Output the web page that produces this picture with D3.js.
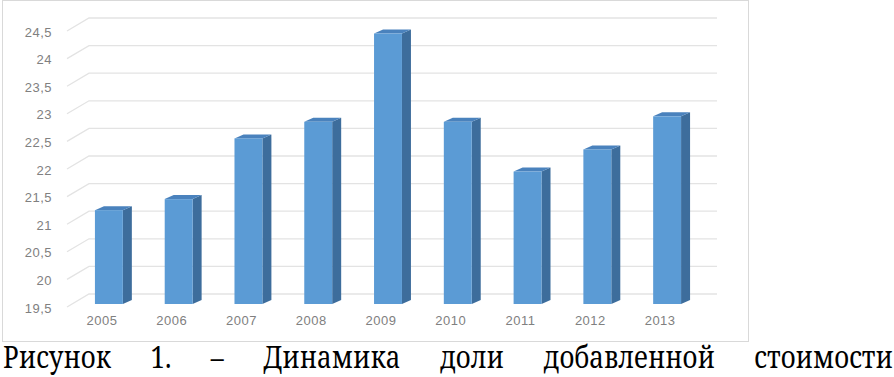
<!DOCTYPE html>
<html>
<head>
<meta charset="utf-8">
<script src="https://cdn.jsdelivr.net/npm/d3@7"></script>
<style>
  body { margin: 0; background: #fff; }
  svg { display: block; }
</style>
</head>
<body>
<svg id="chart" width="894" height="377"></svg>
<script>
// data
let years = ["2005", "2006", "2007", "2008", "2009", "2010", "2011", "2012", "2013"];
let values = [21.2, 21.4, 22.5, 22.8, 24.4, 22.8, 21.9, 22.3, 22.9];
let yTicks = [19.5, 20, 20.5, 21, 21.5, 22, 22.5, 23, 23.5, 24, 24.5];
let captionWords = ["Рисунок", "1.", "–", "Динамика", "доли", "добавленной", "стоимости"];

let svg = d3.select("#chart");

// chart frame
svg.append("rect")
    .attr("x", 2.5).attr("y", 0.5)
    .attr("width", 746).attr("height", 341)
    .attr("fill", "#fff").attr("stroke", "#d9d9d9");

// front plane scales, back plane is shifted by depth
let depthX = 22, depthY = -13;
let x = d3.scaleBand().domain(years).range([67, 695]).paddingInner(0.6).paddingOuter(0.3);
let y = d3.scaleLinear().domain([19.5, 24.5]).range([307, 31]);
let fmt = v => String(v).replace(".", ",");

// gridlines: diagonal on the left wall + horizontal on the back wall
let grid = svg.append("g").attr("stroke", "#e3e3e3").attr("stroke-width", 1.3).attr("fill", "none");
yTicks.forEach(v => {
    grid.append("path")
        .attr("d", `M67,${y(v)}L${67 + depthX},${y(v) + depthY}H${695 + depthX}`);
});

// y labels
svg.append("g")
    .attr("transform", "translate(54,1)")
    .call(d3.axisLeft(y).tickValues(yTicks).tickSize(0).tickPadding(2).tickFormat(fmt))
    .call(g => g.select(".domain").remove())
    .selectAll("text")
    .attr("fill", "#808080")
    .style("font-family", "'Liberation Sans', Arial, sans-serif")
    .style("font-size", "13px")
    .style("letter-spacing", "0.5px");

// x labels
svg.append("g")
    .attr("transform", `translate(0,${y(19.5) + 9})`)
    .call(d3.axisBottom(x).tickSize(0).tickPadding(0))
    .call(g => g.select(".domain").remove())
    .selectAll("text")
    .attr("fill", "#808080")
    .style("font-family", "'Liberation Sans', Arial, sans-serif")
    .style("font-size", "13px")
    .style("letter-spacing", "0.5px");

// 3D bars: bars sit a bit behind the front plane
let barShiftX = 7, barShiftY = -3;
let sideX = 9, sideY = -4;
let bars = svg.append("g").selectAll("g")
    .data(years.map((yr, i) => ({ year: yr, value: values[i] })))
    .join("g")
    .attr("transform", `translate(${barShiftX},${barShiftY})`);

bars.each(function (d) {
    let g = d3.select(this);
    let x0 = x(d.year), x1 = x0 + x.bandwidth();
    let yt = y(d.value), yb = y(19.5);
    // side face
    g.append("path")
        .attr("d", `M${x1},${yt}L${x1 + sideX},${yt + sideY}L${x1 + sideX},${yb + sideY}L${x1},${yb}Z`)
        .attr("fill", "#3d6d9c");
    // top face
    g.append("path")
        .attr("d", `M${x0},${yt}L${x0 + sideX},${yt + sideY}L${x1 + sideX},${yt + sideY}L${x1},${yt}Z`)
        .attr("fill", "#4a82bd");
    // front face
    g.append("rect")
        .attr("x", x0).attr("y", yt)
        .attr("width", x.bandwidth()).attr("height", yb - yt)
        .attr("fill", "#5b9bd5");
});

// caption: narrow serif, words justified over the full width
// (the installed Liberation Serif has no Cyrillic here, so Noto Serif squeezed a bit)
let sx = 0.86;
let words = svg.append("g").selectAll("text").data(captionWords).join("text")
    .attr("font-family", "Noto Serif, DejaVu Serif, serif")
    .attr("font-size", 30)
    .attr("fill", "#000")
    .text(d => d);
let widths = [];
words.each(function () { widths.push(this.getComputedTextLength() * sx); });
let left = 3, right = 893;
let gap = (right - left - d3.sum(widths)) / (captionWords.length - 1);
let pos = left;
words.attr("transform", (d, i) => {
    let p = pos;
    pos += widths[i] + gap;
    return `translate(${p},368) scale(${sx},1)`;
});
</script>
</body>
</html>
